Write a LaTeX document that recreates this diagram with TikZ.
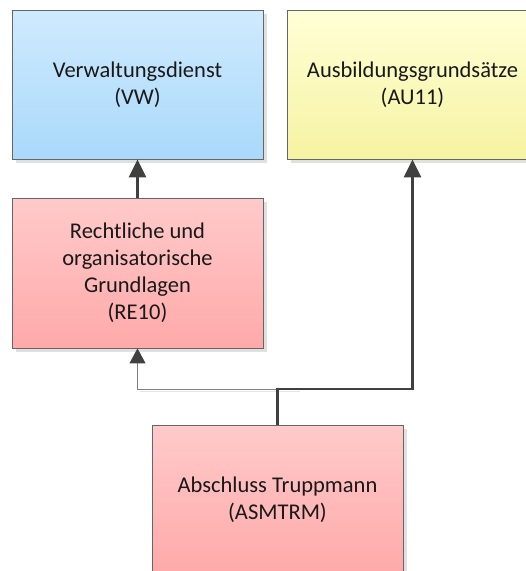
\documentclass[tikz,border=0pt]{standalone}
\usepackage{fontspec}
\setmainfont{Carlito}
\usepackage{tikz}
\usetikzlibrary{arrows.meta, shadows}
\definecolor{lineGray}{HTML}{404040}
\definecolor{blueTop}{HTML}{CFEAFE}
\definecolor{blueBot}{HTML}{A9D9FA}
\definecolor{yellowTop}{HTML}{FFFFD6}
\definecolor{yellowBot}{HTML}{F6F3A2}
\definecolor{redTop}{HTML}{FFCACA}
\definecolor{redBot}{HTML}{FFA9A9}
\tikzset{
    module/.style={draw=lineGray!80, line width=0.8pt, minimum width=251pt, minimum height=149pt,
        align=center, font=\fontsize{22.5}{27}\selectfont, text=black!90,
        drop shadow={shadow xshift=4pt, shadow yshift=-4pt, fill=black!12, opacity=1}},
    bluebox/.style={module, top color=blueTop, bottom color=blueBot},
    yellowbox/.style={module, top color=yellowTop, bottom color=yellowBot},
    redbox/.style={module, top color=redTop, bottom color=redBot},
    dep/.style={-{Triangle[length=18pt, width=17pt]}, lineGray, line width=2.6pt},
    weakdep/.style={-{Triangle[length=15pt, width=16pt, color=lineGray, fill=lineGray]}, black!50, line width=1pt},
}

\begin{document}
\begin{tikzpicture}[x=1pt, y=-1pt]
            \useasboundingbox (0,0) rectangle (526,571);
            \node[bluebox] (vw) at (137.5,84.5) {Verwaltungsdienst\\(VW)};
            \node[yellowbox] (au) at (412.5,84.5) {Ausbildungsgrundsätze\\(AU11)};
            \node[redbox, minimum height=150pt] (re) at (137.5,273) {Rechtliche und\\organisatorische\\Grundlagen\\(RE10)};
            \node[redbox, minimum height=150pt] (asm) at (277.5,500) {Abschluss Truppmann\\(ASMTRM)};
            \coordinate (split) at (277.5,389);
            \draw[black!10, line width=1pt] (139.5,391) -- (300,391);
            \draw[weakdep] (split) -| (re.south);
            \draw[dep] (re.north) -- (vw.south);
            \draw[dep] (asm.north) -- (split) -| (au.south);
        \end{tikzpicture}
\end{document}
